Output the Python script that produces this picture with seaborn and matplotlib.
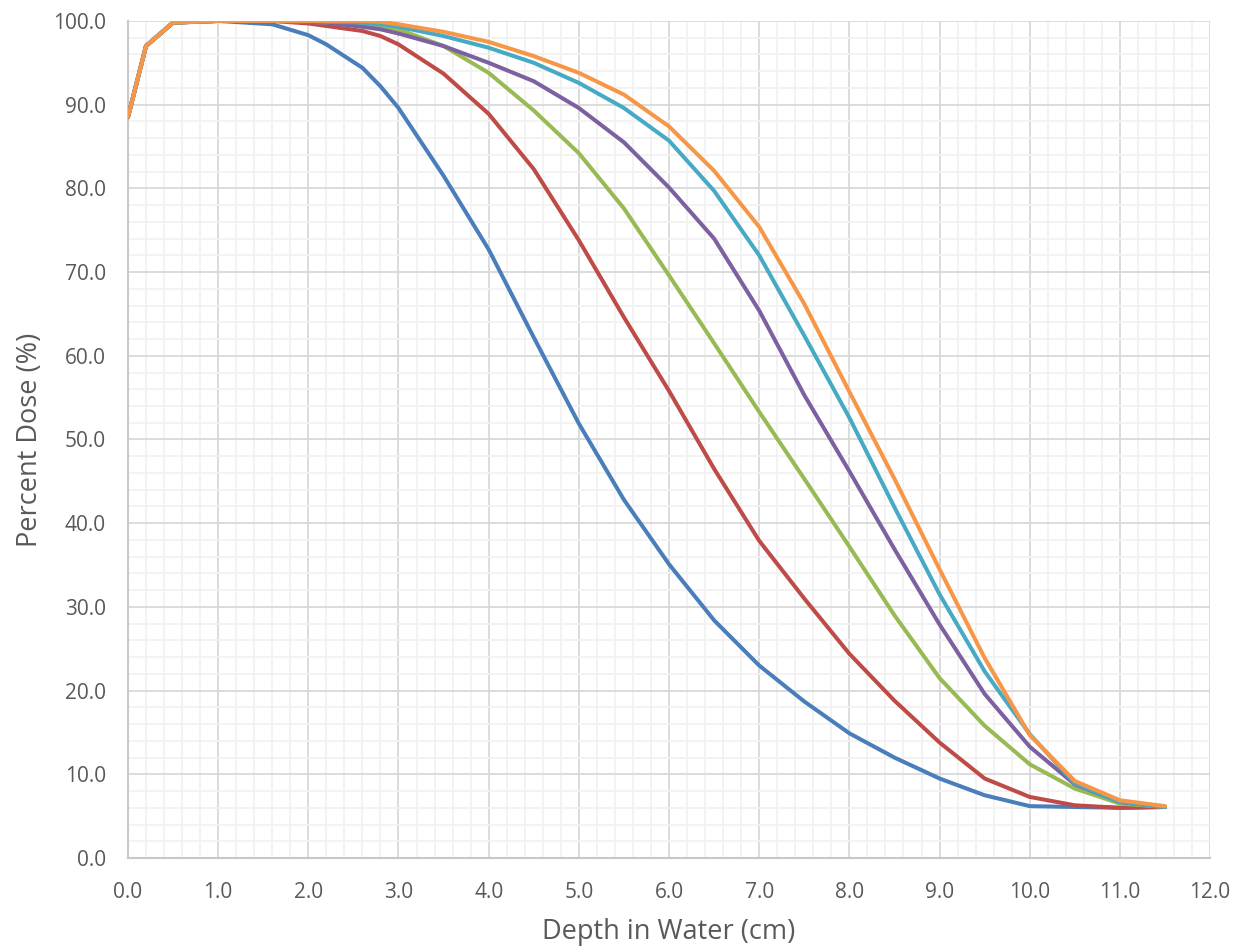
import matplotlib
matplotlib.use("Agg")
import matplotlib.pyplot as plt
import pandas as pd
import seaborn as sns
from matplotlib.ticker import MultipleLocator, FormatStrFormatter

# depth (cm) sampled for every curve
depth = [0.0, 0.2, 0.5, 1.0, 1.6, 2.0, 2.2, 2.6, 2.8, 3.0, 3.5, 4.0, 4.5,
         5.0, 5.5, 6.0, 6.5, 7.0, 7.5, 8.0, 8.5, 9.0, 9.5, 10.0, 10.5,
         11.0, 11.5]

dose_blue = [88.5, 97.0, 99.8, 100.0, 99.6, 98.3, 97.2, 94.4, 92.2, 89.6,
             81.5, 72.7, 62.2, 51.9, 42.8, 35.1, 28.4, 23.0, 18.7, 14.9,
             12.0, 9.5, 7.5, 6.2, 6.1, 6.0, 6.1]
dose_red = [88.5, 97.0, 99.8, 100.0, 100.0, 99.7, 99.4, 98.8, 98.2, 97.2,
            93.7, 88.9, 82.3, 73.8, 64.6, 55.8, 46.5, 37.9, 31.0, 24.4,
            18.8, 13.8, 9.5, 7.3, 6.3, 6.0, 6.1]
dose_green = [88.5, 97.0, 99.8, 100.0, 100.0, 99.9, 99.8, 99.5, 99.3, 99.0,
              97.0, 93.8, 89.3, 84.2, 77.6, 69.6, 61.5, 53.3, 45.3, 37.2,
              29.0, 21.5, 15.8, 11.2, 8.3, 6.5, 6.1]
dose_purple = [88.5, 97.0, 99.8, 100.0, 100.0, 99.9, 99.8, 99.3, 99.0, 98.5,
               97.0, 95.0, 92.8, 89.6, 85.5, 80.1, 74.0, 65.4, 55.3, 46.2,
               36.9, 27.9, 19.6, 13.3, 8.8, 6.7, 6.1]
dose_teal = [88.5, 97.0, 99.8, 100.0, 100.0, 100.0, 99.9, 99.8, 99.6, 99.3,
             98.2, 96.8, 95.0, 92.6, 89.6, 85.7, 79.7, 72.0, 62.4, 52.6,
             41.9, 31.5, 22.3, 14.8, 8.9, 6.7, 6.1]
dose_orange = [88.5, 97.0, 99.8, 100.0, 100.0, 100.0, 100.0, 100.0, 99.9, 99.6,
               98.7, 97.5, 95.8, 93.8, 91.2, 87.4, 82.1, 75.4, 66.2, 55.7,
               45.3, 34.5, 23.9, 14.7, 9.2, 6.9, 6.2]

curves = {"s1": dose_blue, "s2": dose_red, "s3": dose_green,
          "s4": dose_purple, "s5": dose_teal, "s6": dose_orange}
colors = ["#4A7EBB", "#BE4B48", "#98B954", "#7D60A0", "#46AAC5", "#F79646"]


def buildFrame():
    rows = []
    for name, vals in curves.items():
        for d, v in zip(depth, vals):
            rows.append((name, d, v))
    return pd.DataFrame(rows, columns=["curve", "depth", "dose"])


def makePlot(df):
    sns.set_theme(style="white")
    plt.rcParams['font.family'] = ['Open Sans', 'DejaVu Sans']

    fig = plt.figure(figsize=(12.41, 9.52), dpi=100)
    ax = fig.add_axes([0.1031, 0.0987, 0.872, 0.8793])

    sns.lineplot(data=df, x="depth", y="dose", hue="curve",
                 palette=colors, linewidth=2.9, legend=False, ax=ax,
                 zorder=3)

    ax.set_xlim(0, 12)
    ax.set_ylim(0, 100)
    ax.xaxis.set_major_locator(MultipleLocator(1))
    ax.xaxis.set_minor_locator(MultipleLocator(0.2))
    ax.yaxis.set_major_locator(MultipleLocator(10))
    ax.yaxis.set_minor_locator(MultipleLocator(2))
    ax.xaxis.set_major_formatter(FormatStrFormatter("%.1f"))
    ax.yaxis.set_major_formatter(FormatStrFormatter("%.1f"))

    ax.grid(which="minor", color="#F2F2F2", linewidth=1.3, zorder=0)
    ax.grid(which="major", color="#D9D9D9", linewidth=1.3, zorder=1)
    ax.set_axisbelow(True)

    for side in ["top", "right"]:
        ax.spines[side].set_visible(False)
    for side in ["left", "bottom"]:
        ax.spines[side].set_color("#C8C8C8")
        ax.spines[side].set_linewidth(1.5)

    ax.tick_params(which="both", length=0, colors="#595959", labelsize=15)
    ax.tick_params(axis="x", pad=17)
    ax.tick_params(axis="y", pad=16)
    ax.set_xlabel("Depth in Water (cm)", color="#595959", fontsize=19.5,
                  labelpad=11)
    ax.set_ylabel("Percent Dose (%)", color="#595959", fontsize=19.5,
                  labelpad=6)

    fig.savefig("out.png", dpi=100)
    plt.close(fig)


def main():
    df = buildFrame()
    makePlot(df)


if __name__ == '__main__':
    main()
